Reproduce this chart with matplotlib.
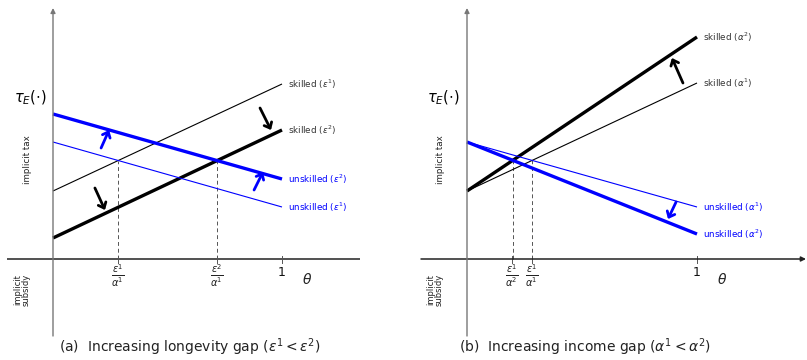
import numpy as np
import matplotlib
matplotlib.use("Agg")
import matplotlib.pyplot as plt

plt.rcParams['mathtext.fontset'] = 'dejavusans'
plt.rcParams['font.family'] = ['DejaVu Sans']

# ---- data ----
theta_ends = [0.0, 1.0]
# panel (a): longevity gap
skilled_e1 = [0.68, 1.75]
skilled_e2 = [0.21, 1.29]
unskilled_e2 = [1.45, 0.80]
unskilled_e1 = [1.17, 0.52]
ticks_a = [0.284, 0.716, 1.0]
ticklabels_a = [r'$\frac{\varepsilon^1}{\alpha^1}$', r'$\frac{\varepsilon^2}{\alpha^1}$', '1']
# panel (b): income gap
skilled_a1 = [0.68, 1.76]
skilled_a2 = [0.68, 2.22]
unskilled_a1 = [1.17, 0.52]
unskilled_a2 = [1.17, 0.25]
ticks_b = [0.196, 0.283, 1.0]
ticklabels_b = [r'$\frac{\varepsilon^1}{\alpha^2}$', r'$\frac{\varepsilon^1}{\alpha^1}$', '1']

BLUE = '#0000ff'
GREY_TXT = '#333333'

W, H = 807, 360
fig = plt.figure(figsize=(W/100, H/100), dpi=100)


def make_axes(px0, px1, x0px, unit):
    ax = fig.add_axes([px0/W, (H-340)/H, (px1-px0)/W, 340/H])
    ax.set_xlim((px0-x0px)/unit, (px1-x0px)/unit)
    ax.set_ylim((259-340)/100, 259/100)
    ax.axis('off')
    return ax


def crossing(a, b):
    sa = a[1]-a[0]; sb = b[1]-b[0]
    t = (b[0]-a[0])/(sa-sb)
    return t, a[0]+sa*t


def draw_panel(ax, xmin, xmax, arrow_x, lines, ticks, ticklabels, pairs, arrows, tx):
    if arrow_x:
        ax.annotate('', xy=(xmax, 0), xytext=(xmin, 0),
                    arrowprops=dict(arrowstyle='-|>', lw=1.1, color='#222222',
                                    mutation_scale=7, shrinkA=0, shrinkB=0))
    else:
        ax.plot([xmin, xmax], [0, 0], color='#222222', lw=1.1, solid_capstyle='butt')
    ax.annotate('', xy=(0, 2.51), xytext=(0, -0.77),
                arrowprops=dict(arrowstyle='-|>', lw=1.0, color='#777777',
                                mutation_scale=7, shrinkA=0, shrinkB=0))
    for a, b in pairs:
        t, y = crossing(a, b)
        ax.plot([t, t], [0, y], color='#555555', lw=0.7, dashes=(4, 3))
    for t, lab in zip(ticks, ticklabels):
        ax.plot([t, t], [-0.035, 0.035], color='#555555', lw=0.7)
        if lab == '1':
            ax.text(t, -0.13, lab, ha='center', va='center', fontsize=9, color='#111111')
        else:
            ax.text(t, -0.165, lab, ha='center', va='center', fontsize=10, color='#222222')
    ax.text(1.11, -0.21, r'$\theta$', ha='center', va='center', fontsize=10, color='#222222')
    for vals, color, lw, label in lines:
        ax.plot(theta_ends, vals, color=color, lw=lw, solid_capstyle='butt')
        ax.text(1.025, vals[1], label, ha='left', va='center', fontsize=6.3,
                color=(BLUE if color == BLUE else GREY_TXT))
    for (x0, y0, x1, y1), color in arrows:
        ax.annotate('', xy=(x1, y1), xytext=(x0, y0),
                    arrowprops=dict(arrowstyle='->,head_length=0.35,head_width=0.3',
                                    lw=2.0, color=color, shrinkA=0, shrinkB=0))
    ax.text(tx, 1.61, r'$\tau_E(\cdot)$', ha='center', va='center', fontsize=10.5)
    ax.text(tx-0.012, 0.99, 'implicit tax', rotation=90, ha='center', va='center',
            fontsize=6.3, color='#222222')
    ax.text(tx-0.035, -0.31, 'implicit\nsubsidy', rotation=90, ha='center', va='center',
            fontsize=6.0, color='#222222', linespacing=1.0)


axa = make_axes(0, 400, 53, 229)
draw_panel(axa, -0.2, 1.34, False,
           [(skilled_e1, 'black', 0.8, r'skilled ($\varepsilon^1$)'),
            (skilled_e2, 'black', 2.4, r'skilled ($\varepsilon^2$)'),
            (unskilled_e2, BLUE, 2.4, r'unskilled ($\varepsilon^2$)'),
            (unskilled_e1, BLUE, 0.8, r'unskilled ($\varepsilon^1$)')],
           ticks_a, ticklabels_a,
           [(skilled_e1, unskilled_e1), (skilled_e2, unskilled_e2)],
           [((0.21, 1.11, 0.245, 1.29), BLUE),
            ((0.183, 0.71, 0.227, 0.49), 'black'),
            ((0.904, 1.51, 0.952, 1.29), 'black'),
            ((0.878, 0.69, 0.917, 0.87), BLUE)],
           -0.10)

axb = make_axes(405, 807, 467, 230)
draw_panel(axb, -0.2, (806-467)/230, True,
           [(skilled_a2, 'black', 2.4, r'skilled ($\alpha^2$)'),
            (skilled_a1, 'black', 0.8, r'skilled ($\alpha^1$)'),
            (unskilled_a1, BLUE, 0.8, r'unskilled ($\alpha^1$)'),
            (unskilled_a2, BLUE, 2.4, r'unskilled ($\alpha^2$)')],
           ticks_b, ticklabels_b,
           [(skilled_a1, unskilled_a1), (skilled_a2, unskilled_a2)],
           [((0.939, 1.76, 0.891, 2.01), 'black'),
            ((0.909, 0.57, 0.874, 0.40), BLUE)],
           -0.104)

fig.text(190/W, 1-347/H, r'(a)  Increasing longevity gap ($\varepsilon^1 < \varepsilon^2$)',
         ha='center', va='center', fontsize=10, color='#222222')
fig.text(585/W, 1-347/H, r'(b)  Increasing income gap ($\alpha^1 < \alpha^2$)',
         ha='center', va='center', fontsize=10, color='#222222')

fig.savefig('out.png', dpi=100)
